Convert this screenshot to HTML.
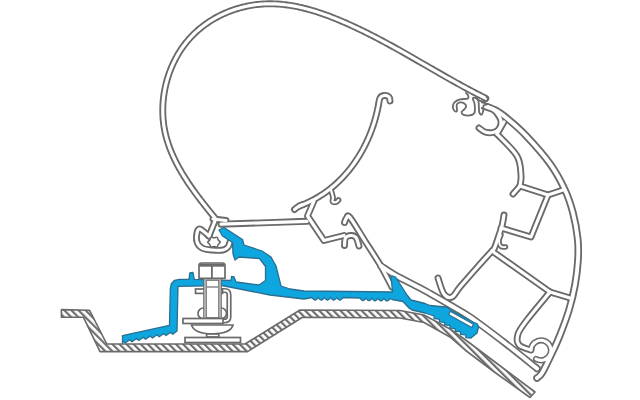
<!DOCTYPE html>
<html><head><meta charset="utf-8"><style>html,body{margin:0;padding:0;background:#fff;width:640px;height:400px;overflow:hidden}svg{display:block}</style></head>
<body>
<svg width="640" height="400" viewBox="0 0 640 400">
<defs><pattern id="h" patternUnits="userSpaceOnUse" width="5" height="5" patternTransform="rotate(-45)"><rect width="5" height="5" fill="#fff"/><rect x="0" y="0" width="2.2" height="5" fill="#6e6e6e"/></pattern></defs>
<rect width="640" height="400" fill="#fff"/><g>
<path d="M61.40,309.60 L89.60,310.30 L106.80,344.00 L245.00,344.00 L300.00,310.00 L400.00,310.50 L424.00,315.00 L450.00,329.00 L465.00,339.50 L495.00,362.00 L535.00,392.00 L530.00,397.50 L495.00,372.50 L465.00,350.00 L450.00,337.00 L424.00,322.50 L400.00,318.00 L302.50,317.20 L247.50,351.60 L100.00,351.60 L83.40,317.20 L61.40,317.20Z" fill="url(#h)" stroke="#6a6a6a" stroke-width="1.6" stroke-linejoin="round"/>
<g fill="none" stroke-linecap="round" stroke-linejoin="round">
<path d="M215.07,218.08 L214.15,216.97 L213.23,215.84 L212.31,214.72 L211.38,213.58 L210.46,212.45 L209.53,211.30 L208.60,210.15 L207.67,209.00 L206.75,207.84 L205.82,206.67 L204.89,205.50 L203.96,204.33 L203.03,203.15 L202.11,201.96 L201.19,200.77 L200.27,199.58 L199.35,198.37 L198.43,197.17 L197.52,195.95 L196.62,194.74 L195.71,193.51 L194.81,192.29 L193.92,191.05 L193.03,189.81 L192.15,188.57 L191.27,187.32 L190.40,186.07 L189.54,184.81 L188.68,183.54 L187.83,182.27 L186.99,181.00 L186.16,179.72 L185.33,178.43 L184.51,177.14 L183.71,175.85 L182.91,174.54 L182.12,173.24 L181.35,171.93 L180.58,170.61 L179.82,169.29 L179.08,167.96 L178.35,166.63 L177.63,165.29 L176.92,163.95 L176.23,162.61 L175.55,161.25 L174.88,159.90 L174.23,158.53 L173.59,157.17 L172.96,155.79 L172.35,154.42 L171.76,153.03 L171.18,151.65 L170.62,150.25 L170.07,148.86 L169.55,147.45 L169.03,146.05 L168.54,144.63 L168.07,143.22 L167.61,141.79 L167.17,140.37 L166.75,138.93 L166.35,137.50 L165.97,136.05 L165.61,134.60 L165.27,133.15 L164.95,131.69 L164.66,130.23 L164.38,128.76 L164.13,127.29 L163.89,125.81 L163.69,124.33 L163.50,122.85 L163.33,121.36 L163.19,119.87 L163.06,118.37 L162.96,116.87 L162.88,115.37 L162.82,113.87 L162.79,112.37 L162.77,110.86 L162.78,109.35 L162.80,107.85 L162.85,106.34 L162.92,104.83 L163.01,103.32 L163.11,101.82 L163.25,100.31 L163.40,98.81 L163.57,97.30 L163.76,95.80 L163.97,94.30 L164.20,92.81 L164.46,91.32 L164.73,89.83 L165.02,88.34 L165.34,86.86 L165.67,85.38 L166.02,83.90 L166.39,82.43 L166.79,80.97 L167.20,79.51 L167.63,78.06 L168.08,76.61 L168.55,75.17 L169.04,73.74 L169.55,72.32 L170.07,70.90 L170.62,69.49 L171.19,68.08 L171.77,66.69 L172.38,65.31 L173.00,63.93 L173.64,62.56 L174.30,61.21 L174.98,59.86 L175.67,58.52 L176.39,57.20 L177.12,55.89 L177.87,54.58 L178.64,53.29 L179.43,52.01 L180.24,50.75 L181.06,49.49 L181.90,48.25 L182.76,47.03 L183.64,45.81 L184.54,44.61 L185.45,43.43 L186.38,42.26 L187.33,41.10 L188.29,39.96 L189.27,38.84 L190.27,37.73 L191.29,36.64 L192.32,35.56 L193.37,34.50 L194.44,33.46 L195.52,32.44 L196.62,31.43 L197.73,30.43 L198.86,29.46 L200.00,28.50 L201.16,27.56 L202.33,26.64 L203.51,25.73 L204.71,24.84 L205.92,23.97 L207.14,23.11 L208.38,22.27 L209.63,21.45 L210.89,20.65 L212.16,19.86 L213.44,19.10 L214.74,18.35 L216.04,17.62 L217.36,16.90 L218.69,16.21 L220.02,15.53 L221.37,14.87 L222.72,14.23 L224.09,13.61 L225.46,13.00 L226.84,12.42 L228.23,11.85 L229.62,11.30 L231.02,10.77 L232.44,10.26 L233.85,9.77 L235.28,9.29 L236.71,8.84 L238.14,8.41 L239.58,7.99 L241.03,7.59 L242.48,7.21 L243.94,6.86 L245.40,6.52 L246.86,6.20 L248.33,5.90 L249.80,5.62 L251.28,5.36 L252.75,5.12 L254.23,4.90 L255.72,4.70 L257.20,4.51 L258.69,4.35 L260.17,4.21 L261.66,4.09 L263.15,3.99 L264.64,3.91 L266.13,3.85 L267.62,3.81 L269.11,3.79 L270.60,3.79 L272.09,3.81 L273.58,3.85 L275.08,3.90 L276.57,3.97 L278.06,4.06 L279.55,4.17 L281.04,4.30 L282.53,4.44 L284.02,4.60 L285.51,4.77 L287.00,4.97 L288.48,5.17 L289.97,5.40 L291.46,5.63 L292.94,5.89 L294.43,6.16 L295.91,6.44 L297.40,6.74 L298.88,7.05 L300.36,7.37 L301.84,7.71 L303.32,8.06 L304.79,8.43 L306.27,8.81 L307.74,9.20 L309.22,9.60 L310.69,10.01 L312.16,10.44 L313.63,10.87 L315.09,11.32 L316.56,11.78 L318.02,12.25 L319.48,12.73 L320.94,13.22 L322.39,13.71 L323.85,14.22 L325.30,14.74 L326.75,15.27 L328.19,15.80 L329.64,16.34 L331.08,16.89 L332.52,17.45 L333.95,18.02 L335.39,18.59 L336.82,19.17 L338.25,19.76 L339.67,20.35 L341.09,20.95 L342.51,21.56 L343.93,22.17 L345.34,22.78 L346.75,23.41 L348.15,24.03 L349.56,24.66 L350.96,25.30 L352.35,25.94 L353.74,26.58 L355.13,27.22 L356.52,27.88 L357.90,28.53 L359.28,29.19 L360.65,29.85 L362.03,30.51 L363.39,31.18 L364.76,31.85 L366.12,32.53 L367.49,33.21 L368.84,33.89 L370.20,34.57 L371.55,35.26 L372.90,35.95 L374.25,36.64 L375.59,37.34 L376.94,38.04 L378.28,38.74 L379.61,39.44 L380.95,40.15 L382.28,40.86 L383.61,41.57 L384.94,42.28 L386.27,43.00 L387.59,43.71 L388.92,44.43 L390.24,45.15 L391.56,45.88 L392.88,46.60 L394.19,47.33 L395.51,48.06 L396.82,48.79 L398.13,49.52 L399.44,50.26 L400.75,50.99 L402.06,51.73 L403.36,52.47 L404.67,53.20 L405.97,53.94 L407.28,54.68 L408.58,55.43 L409.88,56.17 L411.18,56.91 L412.48,57.66 L413.78,58.40 L415.08,59.15 L416.37,59.89 L417.67,60.64 L418.97,61.39 L420.26,62.14 L421.56,62.88 L422.85,63.63 L424.15,64.38 L425.44,65.13 L426.74,65.87 L428.03,66.62 L429.32,67.37 L430.62,68.12 L431.91,68.86 L433.21,69.61 L434.50,70.36 L435.80,71.10 L437.09,71.85 L438.39,72.59 L439.68,73.34 L440.98,74.08 L442.28,74.82 L443.58,75.56 L444.87,76.30 L446.17,77.04 L447.47,77.78 L448.78,78.51 L450.08,79.25 L451.38,79.98 L452.68,80.71 L453.99,81.45 L455.30,82.17 L456.60,82.90 L457.91,83.63 L459.22,84.35 L460.53,85.07 L461.85,85.79 L463.16,86.51 L464.48,87.22 L465.80,87.94 L467.12,88.65 L468.44,89.36 L469.76,90.06 L471.09,90.77 L472.41,91.47 L473.74,92.17 L475.07,92.86 L476.41,93.55 L477.74,94.25 L479.08,94.93 L480.42,95.62 L481.76,96.30 L483.11,96.98 L484.45,97.65 L485.80,98.32" stroke="#6a6a6a" stroke-width="6.9"/>
<path d="M213.00,219.00 L226.00,220.50" stroke="#6a6a6a" stroke-width="6.9"/>
<path d="M215.00,221.00 L209.00,236.00" stroke="#6a6a6a" stroke-width="6.9"/>
<path d="M209.00,236.00 C207.50,234.83 202.00,229.50 200.00,229.00 C198.00,228.50 197.50,230.83 197.00,233.00 C196.50,235.17 196.17,239.50 197.00,242.00 C197.83,244.50 199.50,246.67 202.00,248.00 C204.50,249.33 208.50,249.67 212.00,250.00 C215.50,250.33 220.33,250.50 223.00,250.00 C225.67,249.50 226.83,248.33 228.00,247.00 C229.17,245.67 229.67,242.83 230.00,242.00" stroke="#6a6a6a" stroke-width="6.9"/>
<path d="M221.00,224.20 L307.00,221.30" stroke="#6a6a6a" stroke-width="6.9"/>
<path d="M390.00,101.00 C389.83,100.33 390.00,97.92 389.00,97.00 C388.00,96.08 385.50,95.33 384.00,95.50 C382.50,95.67 380.92,96.42 380.00,98.00 C379.08,99.58 378.75,103.83 378.50,105.00" stroke="#6a6a6a" stroke-width="6.9"/>
<path d="M378.46,104.97 L378.18,106.46 L377.88,107.95 L377.57,109.44 L377.25,110.92 L376.90,112.40 L376.55,113.88 L376.18,115.35 L375.79,116.83 L375.39,118.30 L374.97,119.76 L374.54,121.22 L374.10,122.68 L373.64,124.13 L373.16,125.58 L372.67,127.03 L372.17,128.46 L371.65,129.90 L371.12,131.33 L370.57,132.75 L370.01,134.17 L369.43,135.58 L368.84,136.99 L368.23,138.39 L367.61,139.78 L366.98,141.17 L366.33,142.55 L365.66,143.92 L364.99,145.28 L364.30,146.64 L363.59,147.99 L362.87,149.33 L362.14,150.66 L361.39,151.99 L360.63,153.31 L359.85,154.61 L359.06,155.91 L358.26,157.20 L357.44,158.48 L356.61,159.75 L355.77,161.01 L354.91,162.26 L354.04,163.50 L353.15,164.73 L352.25,165.95 L351.34,167.16 L350.41,168.36 L349.48,169.54 L348.52,170.72 L347.56,171.88 L346.58,173.03 L345.58,174.17 L344.58,175.29 L343.56,176.41 L342.52,177.51 L341.48,178.59 L340.42,179.67 L339.35,180.73 L338.26,181.78 L337.16,182.81 L336.05,183.83 L334.92,184.84 L333.79,185.83 L332.64,186.80 L331.47,187.76 L330.30,188.71 L329.11,189.64 L327.91,190.56 L326.69,191.46 L325.47,192.34 L324.23,193.21 L322.98,194.06 L321.71,194.89 L320.43,195.71 L319.14,196.51 L317.84,197.30 L316.53,198.06 L315.20,198.81 L313.86,199.54 L312.51,200.26 L311.15,200.95 L309.77,201.63 L308.38,202.29 L306.98,202.92 L305.57,203.54 L304.15,204.15 L302.71,204.73 L301.26,205.29 L299.80,205.83" stroke="#6a6a6a" stroke-width="6.9"/>
<path d="M303.00,204.50 C302.25,204.83 299.92,205.67 298.50,206.50 C297.08,207.33 295.17,209.00 294.50,209.50" stroke="#6a6a6a" stroke-width="6.9"/>
<path d="M331.00,190.00 C331.33,191.25 332.75,195.58 333.00,197.50 C333.25,199.42 331.92,200.75 332.50,201.50 C333.08,202.25 335.50,202.25 336.50,202.00 C337.50,201.75 338.17,200.33 338.50,200.00" stroke="#6a6a6a" stroke-width="5.8"/>
<path d="M314.00,201.00 L307.50,216.00 L324.00,240.50 L344.00,235.50" stroke="#6a6a6a" stroke-width="6.9"/>
<path d="M344.50,245.50 C344.67,244.25 344.42,239.67 345.50,238.00 C346.58,236.33 349.25,235.58 351.00,235.50 C352.75,235.42 354.67,235.75 356.00,237.50 C357.33,239.25 358.50,244.58 359.00,246.00" stroke="#6a6a6a" stroke-width="6.9"/>
<path d="M344.50,222.50 C344.83,221.75 345.58,218.83 346.50,218.00 C347.42,217.17 346.92,213.67 350.00,217.50 C353.08,221.33 360.00,233.15 365.00,241.00 C370.00,248.85 375.50,256.93 380.00,264.60 C384.50,272.27 390.00,283.27 392.00,287.00" stroke="#6a6a6a" stroke-width="6.9"/>
<path d="M381.00,266.00 C383.33,267.50 388.50,271.33 395.00,275.00 C401.50,278.67 414.17,284.92 420.00,288.00 C425.83,291.08 425.00,290.67 430.00,293.50 C435.00,296.33 443.33,301.08 450.00,305.00 C456.67,308.92 460.83,310.67 470.00,317.00 C479.17,323.33 493.83,334.42 505.00,343.00 C516.17,351.58 531.67,364.25 537.00,368.50" stroke="#6a6a6a" stroke-width="7.4"/>
<path d="M481.00,105.00 C483.33,105.83 490.58,107.72 495.00,110.00 C499.42,112.28 502.33,114.43 507.50,118.70 C512.67,122.97 518.92,128.10 526.00,135.60 C533.08,143.10 543.50,154.63 550.00,163.70 C556.50,172.77 561.17,181.78 565.00,190.00 C568.83,198.22 570.88,204.88 573.00,213.00 C575.12,221.12 576.87,230.87 577.70,238.70 C578.53,246.53 578.45,252.28 578.00,260.00 C577.55,267.72 576.50,276.67 575.00,285.00 C573.50,293.33 571.50,301.67 569.00,310.00 C566.50,318.33 562.83,327.83 560.00,335.00 C557.17,342.17 555.00,346.67 552.00,353.00 C549.00,359.33 544.50,368.83 542.00,373.00 C539.50,377.17 537.83,377.17 537.00,378.00" stroke="#6a6a6a" stroke-width="7.6"/>
<path d="M483.00,105.50 C484.17,105.83 487.83,106.42 490.00,107.50 C492.17,108.58 494.17,109.75 496.00,112.00 C497.83,114.25 500.50,118.17 501.00,121.00 C501.50,123.83 500.33,127.08 499.00,129.00 C497.67,130.92 495.33,132.00 493.00,132.50 C490.67,133.00 487.33,132.75 485.00,132.00 C482.67,131.25 480.00,128.67 479.00,128.00" stroke="#6a6a6a" stroke-width="6.9"/>
<path d="M504.00,122.00 L497.00,134.00" stroke="#6a6a6a" stroke-width="6.9"/>
<path d="M497.00,134.00 C500.33,137.67 513.00,149.17 517.00,156.00 C521.00,162.83 520.50,170.00 521.00,175.00 C521.50,180.00 520.17,184.17 520.00,186.00" stroke="#6a6a6a" stroke-width="6.9"/>
<path d="M520.00,186.00 L513.00,194.00" stroke="#6a6a6a" stroke-width="6.9"/>
<path d="M520.00,186.00 L548.00,195.00 L563.00,190.00" stroke="#6a6a6a" stroke-width="6.9"/>
<path d="M548.00,195.00 L531.00,237.00 L501.00,228.00" stroke="#6a6a6a" stroke-width="6.9"/>
<path d="M504.00,215.00 C503.67,216.83 502.83,222.67 502.00,226.00 C501.17,229.33 500.25,231.33 499.00,235.00 C497.75,238.67 495.75,245.25 494.50,248.00 C493.25,250.75 494.33,248.33 491.50,251.50 C488.67,254.67 482.75,261.08 477.50,267.00 C472.25,272.92 464.25,282.00 460.00,287.00 C455.75,292.00 454.67,295.83 452.00,297.00 C449.33,298.17 446.33,297.17 444.00,294.00 C441.67,290.83 439.00,280.67 438.00,278.00" stroke="#6a6a6a" stroke-width="6.9"/>
<path d="M492.00,251.00 L550.00,292.00 L570.00,298.00" stroke="#6a6a6a" stroke-width="6.9"/>
<path d="M501.00,235.00 C500.67,236.00 499.00,239.08 499.00,241.00 C499.00,242.92 499.92,245.50 501.00,246.50 C502.08,247.50 504.75,246.92 505.50,247.00" stroke="#6a6a6a" stroke-width="5.5"/>
<path d="M550.00,292.00 C546.17,296.67 532.33,313.00 527.00,320.00 C521.67,327.00 519.33,329.83 518.00,334.00 C516.67,338.17 516.83,342.33 519.00,345.00 C521.17,347.67 529.00,349.17 531.00,350.00" stroke="#6a6a6a" stroke-width="6.9"/>
<path d="M531,350 A10,10 0 1 1 536,359" stroke="#6a6a6a" stroke-width="6.2"/>
<path d="M215.07,218.08 L214.15,216.97 L213.23,215.84 L212.31,214.72 L211.38,213.58 L210.46,212.45 L209.53,211.30 L208.60,210.15 L207.67,209.00 L206.75,207.84 L205.82,206.67 L204.89,205.50 L203.96,204.33 L203.03,203.15 L202.11,201.96 L201.19,200.77 L200.27,199.58 L199.35,198.37 L198.43,197.17 L197.52,195.95 L196.62,194.74 L195.71,193.51 L194.81,192.29 L193.92,191.05 L193.03,189.81 L192.15,188.57 L191.27,187.32 L190.40,186.07 L189.54,184.81 L188.68,183.54 L187.83,182.27 L186.99,181.00 L186.16,179.72 L185.33,178.43 L184.51,177.14 L183.71,175.85 L182.91,174.54 L182.12,173.24 L181.35,171.93 L180.58,170.61 L179.82,169.29 L179.08,167.96 L178.35,166.63 L177.63,165.29 L176.92,163.95 L176.23,162.61 L175.55,161.25 L174.88,159.90 L174.23,158.53 L173.59,157.17 L172.96,155.79 L172.35,154.42 L171.76,153.03 L171.18,151.65 L170.62,150.25 L170.07,148.86 L169.55,147.45 L169.03,146.05 L168.54,144.63 L168.07,143.22 L167.61,141.79 L167.17,140.37 L166.75,138.93 L166.35,137.50 L165.97,136.05 L165.61,134.60 L165.27,133.15 L164.95,131.69 L164.66,130.23 L164.38,128.76 L164.13,127.29 L163.89,125.81 L163.69,124.33 L163.50,122.85 L163.33,121.36 L163.19,119.87 L163.06,118.37 L162.96,116.87 L162.88,115.37 L162.82,113.87 L162.79,112.37 L162.77,110.86 L162.78,109.35 L162.80,107.85 L162.85,106.34 L162.92,104.83 L163.01,103.32 L163.11,101.82 L163.25,100.31 L163.40,98.81 L163.57,97.30 L163.76,95.80 L163.97,94.30 L164.20,92.81 L164.46,91.32 L164.73,89.83 L165.02,88.34 L165.34,86.86 L165.67,85.38 L166.02,83.90 L166.39,82.43 L166.79,80.97 L167.20,79.51 L167.63,78.06 L168.08,76.61 L168.55,75.17 L169.04,73.74 L169.55,72.32 L170.07,70.90 L170.62,69.49 L171.19,68.08 L171.77,66.69 L172.38,65.31 L173.00,63.93 L173.64,62.56 L174.30,61.21 L174.98,59.86 L175.67,58.52 L176.39,57.20 L177.12,55.89 L177.87,54.58 L178.64,53.29 L179.43,52.01 L180.24,50.75 L181.06,49.49 L181.90,48.25 L182.76,47.03 L183.64,45.81 L184.54,44.61 L185.45,43.43 L186.38,42.26 L187.33,41.10 L188.29,39.96 L189.27,38.84 L190.27,37.73 L191.29,36.64 L192.32,35.56 L193.37,34.50 L194.44,33.46 L195.52,32.44 L196.62,31.43 L197.73,30.43 L198.86,29.46 L200.00,28.50 L201.16,27.56 L202.33,26.64 L203.51,25.73 L204.71,24.84 L205.92,23.97 L207.14,23.11 L208.38,22.27 L209.63,21.45 L210.89,20.65 L212.16,19.86 L213.44,19.10 L214.74,18.35 L216.04,17.62 L217.36,16.90 L218.69,16.21 L220.02,15.53 L221.37,14.87 L222.72,14.23 L224.09,13.61 L225.46,13.00 L226.84,12.42 L228.23,11.85 L229.62,11.30 L231.02,10.77 L232.44,10.26 L233.85,9.77 L235.28,9.29 L236.71,8.84 L238.14,8.41 L239.58,7.99 L241.03,7.59 L242.48,7.21 L243.94,6.86 L245.40,6.52 L246.86,6.20 L248.33,5.90 L249.80,5.62 L251.28,5.36 L252.75,5.12 L254.23,4.90 L255.72,4.70 L257.20,4.51 L258.69,4.35 L260.17,4.21 L261.66,4.09 L263.15,3.99 L264.64,3.91 L266.13,3.85 L267.62,3.81 L269.11,3.79 L270.60,3.79 L272.09,3.81 L273.58,3.85 L275.08,3.90 L276.57,3.97 L278.06,4.06 L279.55,4.17 L281.04,4.30 L282.53,4.44 L284.02,4.60 L285.51,4.77 L287.00,4.97 L288.48,5.17 L289.97,5.40 L291.46,5.63 L292.94,5.89 L294.43,6.16 L295.91,6.44 L297.40,6.74 L298.88,7.05 L300.36,7.37 L301.84,7.71 L303.32,8.06 L304.79,8.43 L306.27,8.81 L307.74,9.20 L309.22,9.60 L310.69,10.01 L312.16,10.44 L313.63,10.87 L315.09,11.32 L316.56,11.78 L318.02,12.25 L319.48,12.73 L320.94,13.22 L322.39,13.71 L323.85,14.22 L325.30,14.74 L326.75,15.27 L328.19,15.80 L329.64,16.34 L331.08,16.89 L332.52,17.45 L333.95,18.02 L335.39,18.59 L336.82,19.17 L338.25,19.76 L339.67,20.35 L341.09,20.95 L342.51,21.56 L343.93,22.17 L345.34,22.78 L346.75,23.41 L348.15,24.03 L349.56,24.66 L350.96,25.30 L352.35,25.94 L353.74,26.58 L355.13,27.22 L356.52,27.88 L357.90,28.53 L359.28,29.19 L360.65,29.85 L362.03,30.51 L363.39,31.18 L364.76,31.85 L366.12,32.53 L367.49,33.21 L368.84,33.89 L370.20,34.57 L371.55,35.26 L372.90,35.95 L374.25,36.64 L375.59,37.34 L376.94,38.04 L378.28,38.74 L379.61,39.44 L380.95,40.15 L382.28,40.86 L383.61,41.57 L384.94,42.28 L386.27,43.00 L387.59,43.71 L388.92,44.43 L390.24,45.15 L391.56,45.88 L392.88,46.60 L394.19,47.33 L395.51,48.06 L396.82,48.79 L398.13,49.52 L399.44,50.26 L400.75,50.99 L402.06,51.73 L403.36,52.47 L404.67,53.20 L405.97,53.94 L407.28,54.68 L408.58,55.43 L409.88,56.17 L411.18,56.91 L412.48,57.66 L413.78,58.40 L415.08,59.15 L416.37,59.89 L417.67,60.64 L418.97,61.39 L420.26,62.14 L421.56,62.88 L422.85,63.63 L424.15,64.38 L425.44,65.13 L426.74,65.87 L428.03,66.62 L429.32,67.37 L430.62,68.12 L431.91,68.86 L433.21,69.61 L434.50,70.36 L435.80,71.10 L437.09,71.85 L438.39,72.59 L439.68,73.34 L440.98,74.08 L442.28,74.82 L443.58,75.56 L444.87,76.30 L446.17,77.04 L447.47,77.78 L448.78,78.51 L450.08,79.25 L451.38,79.98 L452.68,80.71 L453.99,81.45 L455.30,82.17 L456.60,82.90 L457.91,83.63 L459.22,84.35 L460.53,85.07 L461.85,85.79 L463.16,86.51 L464.48,87.22 L465.80,87.94 L467.12,88.65 L468.44,89.36 L469.76,90.06 L471.09,90.77 L472.41,91.47 L473.74,92.17 L475.07,92.86 L476.41,93.55 L477.74,94.25 L479.08,94.93 L480.42,95.62 L481.76,96.30 L483.11,96.98 L484.45,97.65 L485.80,98.32" stroke="#fff" stroke-width="3.2"/>
<path d="M213.00,219.00 L226.00,220.50" stroke="#fff" stroke-width="3.2"/>
<path d="M215.00,221.00 L209.00,236.00" stroke="#fff" stroke-width="3.2"/>
<path d="M209.00,236.00 C207.50,234.83 202.00,229.50 200.00,229.00 C198.00,228.50 197.50,230.83 197.00,233.00 C196.50,235.17 196.17,239.50 197.00,242.00 C197.83,244.50 199.50,246.67 202.00,248.00 C204.50,249.33 208.50,249.67 212.00,250.00 C215.50,250.33 220.33,250.50 223.00,250.00 C225.67,249.50 226.83,248.33 228.00,247.00 C229.17,245.67 229.67,242.83 230.00,242.00" stroke="#fff" stroke-width="3.2"/>
<path d="M221.00,224.20 L307.00,221.30" stroke="#fff" stroke-width="3.2"/>
<path d="M390.00,101.00 C389.83,100.33 390.00,97.92 389.00,97.00 C388.00,96.08 385.50,95.33 384.00,95.50 C382.50,95.67 380.92,96.42 380.00,98.00 C379.08,99.58 378.75,103.83 378.50,105.00" stroke="#fff" stroke-width="3.2"/>
<path d="M378.46,104.97 L378.18,106.46 L377.88,107.95 L377.57,109.44 L377.25,110.92 L376.90,112.40 L376.55,113.88 L376.18,115.35 L375.79,116.83 L375.39,118.30 L374.97,119.76 L374.54,121.22 L374.10,122.68 L373.64,124.13 L373.16,125.58 L372.67,127.03 L372.17,128.46 L371.65,129.90 L371.12,131.33 L370.57,132.75 L370.01,134.17 L369.43,135.58 L368.84,136.99 L368.23,138.39 L367.61,139.78 L366.98,141.17 L366.33,142.55 L365.66,143.92 L364.99,145.28 L364.30,146.64 L363.59,147.99 L362.87,149.33 L362.14,150.66 L361.39,151.99 L360.63,153.31 L359.85,154.61 L359.06,155.91 L358.26,157.20 L357.44,158.48 L356.61,159.75 L355.77,161.01 L354.91,162.26 L354.04,163.50 L353.15,164.73 L352.25,165.95 L351.34,167.16 L350.41,168.36 L349.48,169.54 L348.52,170.72 L347.56,171.88 L346.58,173.03 L345.58,174.17 L344.58,175.29 L343.56,176.41 L342.52,177.51 L341.48,178.59 L340.42,179.67 L339.35,180.73 L338.26,181.78 L337.16,182.81 L336.05,183.83 L334.92,184.84 L333.79,185.83 L332.64,186.80 L331.47,187.76 L330.30,188.71 L329.11,189.64 L327.91,190.56 L326.69,191.46 L325.47,192.34 L324.23,193.21 L322.98,194.06 L321.71,194.89 L320.43,195.71 L319.14,196.51 L317.84,197.30 L316.53,198.06 L315.20,198.81 L313.86,199.54 L312.51,200.26 L311.15,200.95 L309.77,201.63 L308.38,202.29 L306.98,202.92 L305.57,203.54 L304.15,204.15 L302.71,204.73 L301.26,205.29 L299.80,205.83" stroke="#fff" stroke-width="3.2"/>
<path d="M303.00,204.50 C302.25,204.83 299.92,205.67 298.50,206.50 C297.08,207.33 295.17,209.00 294.50,209.50" stroke="#fff" stroke-width="3.2"/>
<path d="M331.00,190.00 C331.33,191.25 332.75,195.58 333.00,197.50 C333.25,199.42 331.92,200.75 332.50,201.50 C333.08,202.25 335.50,202.25 336.50,202.00 C337.50,201.75 338.17,200.33 338.50,200.00" stroke="#fff" stroke-width="2.2"/>
<path d="M314.00,201.00 L307.50,216.00 L324.00,240.50 L344.00,235.50" stroke="#fff" stroke-width="3.2"/>
<path d="M344.50,245.50 C344.67,244.25 344.42,239.67 345.50,238.00 C346.58,236.33 349.25,235.58 351.00,235.50 C352.75,235.42 354.67,235.75 356.00,237.50 C357.33,239.25 358.50,244.58 359.00,246.00" stroke="#fff" stroke-width="3.2"/>
<path d="M344.50,222.50 C344.83,221.75 345.58,218.83 346.50,218.00 C347.42,217.17 346.92,213.67 350.00,217.50 C353.08,221.33 360.00,233.15 365.00,241.00 C370.00,248.85 375.50,256.93 380.00,264.60 C384.50,272.27 390.00,283.27 392.00,287.00" stroke="#fff" stroke-width="3.2"/>
<path d="M381.00,266.00 C383.33,267.50 388.50,271.33 395.00,275.00 C401.50,278.67 414.17,284.92 420.00,288.00 C425.83,291.08 425.00,290.67 430.00,293.50 C435.00,296.33 443.33,301.08 450.00,305.00 C456.67,308.92 460.83,310.67 470.00,317.00 C479.17,323.33 493.83,334.42 505.00,343.00 C516.17,351.58 531.67,364.25 537.00,368.50" stroke="#fff" stroke-width="4.0"/>
<path d="M481.00,105.00 C483.33,105.83 490.58,107.72 495.00,110.00 C499.42,112.28 502.33,114.43 507.50,118.70 C512.67,122.97 518.92,128.10 526.00,135.60 C533.08,143.10 543.50,154.63 550.00,163.70 C556.50,172.77 561.17,181.78 565.00,190.00 C568.83,198.22 570.88,204.88 573.00,213.00 C575.12,221.12 576.87,230.87 577.70,238.70 C578.53,246.53 578.45,252.28 578.00,260.00 C577.55,267.72 576.50,276.67 575.00,285.00 C573.50,293.33 571.50,301.67 569.00,310.00 C566.50,318.33 562.83,327.83 560.00,335.00 C557.17,342.17 555.00,346.67 552.00,353.00 C549.00,359.33 544.50,368.83 542.00,373.00 C539.50,377.17 537.83,377.17 537.00,378.00" stroke="#fff" stroke-width="3.9"/>
<path d="M483.00,105.50 C484.17,105.83 487.83,106.42 490.00,107.50 C492.17,108.58 494.17,109.75 496.00,112.00 C497.83,114.25 500.50,118.17 501.00,121.00 C501.50,123.83 500.33,127.08 499.00,129.00 C497.67,130.92 495.33,132.00 493.00,132.50 C490.67,133.00 487.33,132.75 485.00,132.00 C482.67,131.25 480.00,128.67 479.00,128.00" stroke="#fff" stroke-width="3.2"/>
<path d="M504.00,122.00 L497.00,134.00" stroke="#fff" stroke-width="3.2"/>
<path d="M497.00,134.00 C500.33,137.67 513.00,149.17 517.00,156.00 C521.00,162.83 520.50,170.00 521.00,175.00 C521.50,180.00 520.17,184.17 520.00,186.00" stroke="#fff" stroke-width="3.2"/>
<path d="M520.00,186.00 L513.00,194.00" stroke="#fff" stroke-width="3.2"/>
<path d="M520.00,186.00 L548.00,195.00 L563.00,190.00" stroke="#fff" stroke-width="3.2"/>
<path d="M548.00,195.00 L531.00,237.00 L501.00,228.00" stroke="#fff" stroke-width="3.2"/>
<path d="M504.00,215.00 C503.67,216.83 502.83,222.67 502.00,226.00 C501.17,229.33 500.25,231.33 499.00,235.00 C497.75,238.67 495.75,245.25 494.50,248.00 C493.25,250.75 494.33,248.33 491.50,251.50 C488.67,254.67 482.75,261.08 477.50,267.00 C472.25,272.92 464.25,282.00 460.00,287.00 C455.75,292.00 454.67,295.83 452.00,297.00 C449.33,298.17 446.33,297.17 444.00,294.00 C441.67,290.83 439.00,280.67 438.00,278.00" stroke="#fff" stroke-width="3.2"/>
<path d="M492.00,251.00 L550.00,292.00 L570.00,298.00" stroke="#fff" stroke-width="3.2"/>
<path d="M501.00,235.00 C500.67,236.00 499.00,239.08 499.00,241.00 C499.00,242.92 499.92,245.50 501.00,246.50 C502.08,247.50 504.75,246.92 505.50,247.00" stroke="#fff" stroke-width="1.7999999999999998"/>
<path d="M550.00,292.00 C546.17,296.67 532.33,313.00 527.00,320.00 C521.67,327.00 519.33,329.83 518.00,334.00 C516.67,338.17 516.83,342.33 519.00,345.00 C521.17,347.67 529.00,349.17 531.00,350.00" stroke="#fff" stroke-width="3.2"/>
<path d="M531,350 A10,10 0 1 1 536,359" stroke="#fff" stroke-width="3.1"/>
</g>
<path d="M452,96.5 L468.5,95.2 L481,99.5 L481,116 L450,116Z" fill="#fff"/>
<path d="M466.00,93.00 C466.37,93.42 467.93,94.57 468.20,95.50 C468.47,96.43 468.97,97.95 467.60,98.60 C466.23,99.25 462.20,98.77 460.00,99.40 C457.80,100.03 455.60,101.23 454.40,102.40 C453.20,103.57 452.93,105.20 452.80,106.40 C452.67,107.60 453.15,108.75 453.60,109.60 C454.05,110.45 454.93,111.30 455.50,111.50 C456.07,111.70 456.78,111.97 457.00,110.80 C457.22,109.63 456.30,105.90 456.80,104.50 C457.30,103.10 458.80,102.62 460.00,102.40 C461.20,102.18 462.97,102.53 464.00,103.20 C465.03,103.87 466.20,105.33 466.20,106.40 C466.20,107.47 464.77,108.67 464.00,109.60 C463.23,110.53 461.73,111.17 461.60,112.00 C461.47,112.83 461.87,114.03 463.20,114.60 C464.53,115.17 467.73,115.70 469.60,115.40 C471.47,115.10 473.57,114.70 474.40,112.80 C475.23,110.90 474.87,106.37 474.60,104.00 C474.33,101.63 472.67,99.63 472.80,98.60 C472.93,97.57 474.47,97.43 475.40,97.80 C476.33,98.17 477.77,98.43 478.40,100.80 C479.03,103.17 478.67,109.70 479.20,112.00 C479.73,114.30 480.90,114.93 481.60,114.60 C482.30,114.27 483.08,111.52 483.40,110.00 C483.72,108.48 482.90,106.42 483.50,105.50 C484.10,104.58 486.42,104.67 487.00,104.50" fill="none" stroke="#6a6a6a" stroke-width="1.8" stroke-linecap="round" stroke-linejoin="round"/>
<path d="M486.60,96.80 C486.88,97.22 488.57,98.50 488.30,99.30 C488.03,100.10 486.47,101.38 485.00,101.60 C483.53,101.82 481.10,101.23 479.50,100.60 C477.90,99.97 476.08,98.27 475.40,97.80" fill="none" stroke="#6a6a6a" stroke-width="1.8" stroke-linecap="round" stroke-linejoin="round"/>
<path d="M220.30,242.20 C220.30,242.92 218.77,243.56 218.24,244.36 C217.72,245.16 217.86,246.64 217.15,247.00 C216.44,247.36 215.05,246.51 214.00,246.51 C212.95,246.51 211.56,247.36 210.85,247.00 C210.14,246.64 210.28,245.16 209.76,244.36 C209.23,243.56 207.70,242.92 207.70,242.20 C207.70,241.48 209.23,240.84 209.76,240.04 C210.28,239.24 210.14,237.76 210.85,237.40 C211.56,237.04 212.95,237.89 214.00,237.89 C215.05,237.89 216.44,237.04 217.15,237.40 C217.86,237.76 217.72,239.24 218.24,240.04 C218.77,240.84 220.30,241.48 220.30,242.20Z" fill="#fff" stroke="#6a6a6a" stroke-width="1.6"/>
<path d="M219.00,230.00 L224.00,227.50 L242.50,239.50 L244.00,245.00 L262.00,251.00 L271.00,257.00 L276.00,266.00 L281.00,286.00 L290.00,289.00 L304.00,291.00 L392.50,292.00 L391.50,281.00 L390.50,277.50 L392.50,276.00 L395.50,277.00 L400.00,284.00 L407.00,295.00 L411.00,300.00 L425.00,303.50 L430.00,305.50 L445.00,307.00 L448.00,307.50 L450.00,309.50 L474.00,322.50 L477.00,323.50 L478.50,327.00 L477.00,333.00 L471.00,338.00 L465.91,337.53 L465.71,334.86 L460.63,334.39 L460.43,331.71 L455.34,331.25 L455.14,328.57 L450.05,328.11 L449.86,325.43 L444.77,324.96 L444.57,322.29 L439.48,321.82 L439.29,319.14 L434.20,318.68 L434.00,316.00 L425.00,313.00 L412.00,310.00 L409.00,308.00 L403.00,301.50 L392.00,299.50 L390.00,298.50 L389.23,299.44 L388.47,300.24 L387.71,300.77 L386.96,300.95 L386.21,300.75 L385.47,300.19 L384.73,299.37 L384.00,298.40 L384.00,298.40 L383.23,299.34 L382.47,300.14 L381.71,300.67 L380.96,300.85 L380.21,300.65 L379.47,300.09 L378.73,299.27 L378.00,298.30 L378.00,298.30 L377.23,299.24 L376.47,300.04 L375.71,300.57 L374.96,300.75 L374.21,300.55 L373.47,299.99 L372.73,299.17 L372.00,298.20 L372.00,298.20 L371.23,299.14 L370.47,299.94 L369.71,300.47 L368.96,300.65 L368.21,300.45 L367.47,299.89 L366.73,299.07 L366.00,298.10 L366.00,298.10 L365.23,299.04 L364.47,299.84 L363.71,300.37 L362.96,300.55 L362.21,300.35 L361.47,299.79 L360.73,298.97 L360.00,298.00 L360.00,298.00 L343.00,297.50 L343.00,297.50 L342.23,298.46 L341.45,299.27 L340.68,299.81 L339.90,300.00 L339.12,299.81 L338.35,299.27 L337.57,298.46 L336.80,297.50 L336.80,297.50 L336.02,298.46 L335.25,299.27 L334.48,299.81 L333.70,300.00 L332.93,299.81 L332.15,299.27 L331.38,298.46 L330.60,297.50 L330.60,297.50 L329.82,298.46 L329.05,299.27 L328.27,299.81 L327.50,300.00 L326.73,299.81 L325.95,299.27 L325.18,298.46 L324.40,297.50 L324.40,297.50 L323.62,298.46 L322.85,299.27 L322.07,299.81 L321.30,300.00 L320.52,299.81 L319.75,299.27 L318.98,298.46 L318.20,297.50 L318.20,297.50 L317.43,298.46 L316.65,299.27 L315.88,299.81 L315.10,300.00 L314.32,299.81 L313.55,299.27 L312.77,298.46 L312.00,297.50 L312.00,297.50 L304.00,299.00 L270.00,295.00 L222.00,285.50 L178.00,286.30 L177.00,331.00 L172.82,334.30 L170.69,332.25 L166.01,335.55 L163.88,333.50 L159.20,336.80 L157.06,334.75 L152.39,338.05 L150.25,336.00 L145.57,339.30 L143.44,337.25 L138.76,340.55 L136.62,338.50 L131.95,341.80 L129.81,339.75 L125.14,343.05 L123.00,341.00 L122.50,343.00 L122.50,335.60 L169.50,325.30 L170.30,289.00 L171.20,284.00 L174.50,280.30 L179.50,279.40 L189.00,279.40 L189.80,273.00 L193.00,272.50 L194.30,279.40 L231.00,280.50 L231.50,276.50 L234.00,277.00 L236.00,282.00 L259.00,285.00 L265.50,280.50 L265.50,266.50 L259.50,258.50 L239.00,257.00 L235.00,260.00 L233.00,254.00 L232.50,242.50 L222.50,236.00Z" fill="#0ea6df" stroke="#2a6f92" stroke-width="1.3" stroke-linejoin="round"/>
<path d="M450.2,311.2 L473.5,324.2 L471.8,327.6 L448.8,314.8Z" fill="#fff" stroke="#2a6f92" stroke-width="1.2" stroke-linejoin="round"/>
<path d="M221,290.5 L225,290.5 Q229,290.5 229,295 L229,317 Q229,321 224,321 L221,321" fill="none" stroke="#6a6a6a" stroke-width="5.2"/>
<path d="M221,290.5 L225,290.5 Q229,290.5 229,295 L229,317 Q229,321 224,321 L221,321" fill="none" stroke="#fff" stroke-width="1.8"/>
<rect x="195.5" y="289" width="27" height="4.4" fill="#fff" stroke="#6a6a6a" stroke-width="1.7"/>
<rect x="198" y="308" width="28.5" height="10.7" rx="5.3" fill="#fff" stroke="#6a6a6a" stroke-width="1.7"/>
<rect x="205" y="279" width="15" height="40" fill="#fff" stroke="#6a6a6a" stroke-width="3.6"/>
<rect x="205" y="279" width="15" height="40" fill="none" stroke="#fff" stroke-width="0.9"/>
<line x1="207" y1="287" x2="218" y2="287" stroke="#6a6a6a" stroke-width="1.2"/>
<rect x="183" y="318.5" width="40" height="5" fill="#fff" stroke="#6a6a6a" stroke-width="1.7"/>
<path d="M191.5,325 L233,325 Q231,333.5 212,334 Q194,333.5 191.5,325Z" fill="#fff" stroke="#6a6a6a" stroke-width="1.7"/>
<rect x="206.6" y="334" width="12.2" height="3" fill="#fff" stroke="#6a6a6a" stroke-width="1.7"/>
<rect x="185" y="337.5" width="55.5" height="5" fill="#fff" stroke="#6a6a6a" stroke-width="1.7"/>
<path d="M199,278.3 L199,265.5 Q199,263 201.5,263 L222.5,263 Q225,263 225,265.5 L225,278.3Z" fill="#fff" stroke="#6a6a6a" stroke-width="1.7"/>
<line x1="211.9" y1="265" x2="211.9" y2="278.5" stroke="#6a6a6a" stroke-width="1.8"/>
<line x1="199.5" y1="265.2" x2="224.5" y2="265.2" stroke="#6a6a6a" stroke-width="3"/>
</g></svg>
</body></html>
